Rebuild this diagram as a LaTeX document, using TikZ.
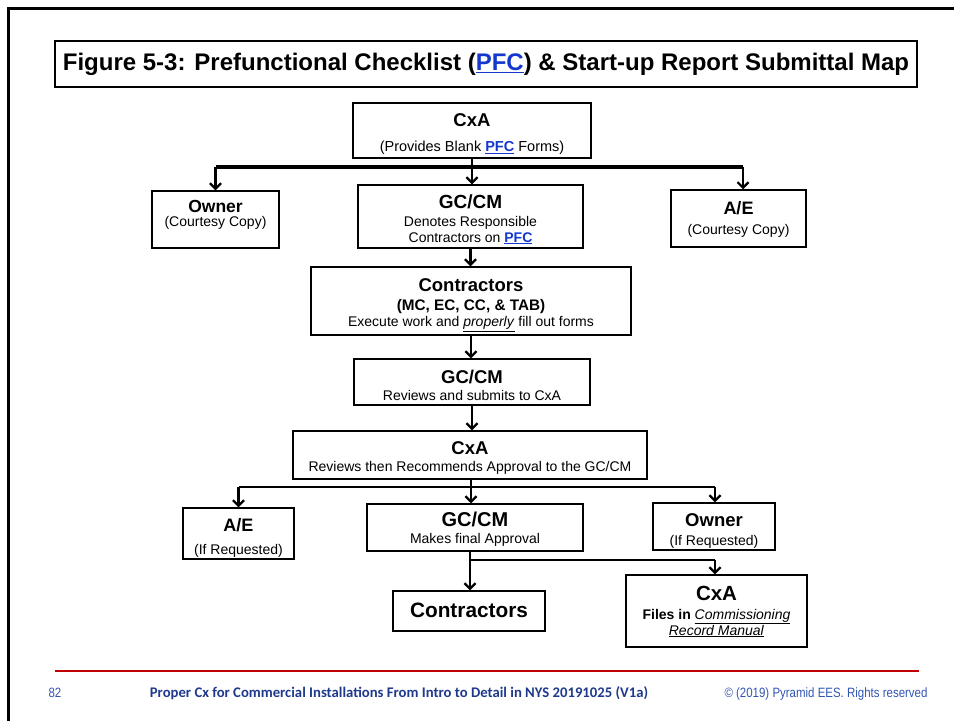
\documentclass[tikz,border=0pt]{standalone}
\usepackage{fontspec}
\setmainfont{Liberation Sans}
\newfontfamily\footfont{Carlito}
\newfontfamily\narrowfont[FakeStretch=0.85]{Liberation Sans}
\usetikzlibrary{arrows.meta}
\definecolor{linkblue}{RGB}{20,55,205}
\definecolor{footred}{RGB}{192,0,0}
\definecolor{footnavy}{RGB}{31,58,140}
\definecolor{footblue}{RGB}{50,85,180}
\newcommand{\fsz}[1]{\fontsize{#1}{#1}\selectfont}
\newcommand{\pfc}{\textcolor{linkblue}{\underline{\textbf{PFC}}}}
\newcommand{\ul}[1]{\underline{\textit{#1}}}
\begin{document}
\begin{tikzpicture}[x=1pt,y=-1pt,
  box/.style={draw, line width=1.5pt, inner sep=0pt},
  txt/.style={anchor=base, inner sep=0pt},
  arr/.style={line width=2.2pt, -{Straight Barb[length=5.5pt,width=11pt]}},
  vline/.style={line width=2.2pt},
  bigbar/.style={line width=3.5pt},
  midbar/.style={line width=2.8pt}]
\useasboundingbox (0,0) rectangle (954,721);
% page frame
\draw[line width=3pt] (8.5,721) -- (8.5,8) -- (954,8);
% title
\node[box, line width=2pt, minimum width=862pt, minimum height=46pt, font=\bfseries\fsz{24}] (title) at (486,64)
  {Figure 5-3: Prefunctional Checklist (\textcolor{linkblue}{\underline{PFC}}) \& Start-up Report Submittal Map};
% level 1
\node[box, minimum width=238pt, minimum height=55pt] (cxa1) at (472,130.5) {};
\node[txt, font=\bfseries\fsz{18.5}] (cxa1a) at (472,126.5) {CxA};
\node[txt, font=\fsz{14.5}] (cxa1b) at (472,151.7) {(Provides Blank \pfc{} Forms)};
% level 2
\node[box, minimum width=127pt, minimum height=57pt] (owner1) at (215.5,219.5) {};
\node[txt, font=\bfseries\fsz{17.5}] (owner1a) at (215.5,212) {Owner};
\node[txt, font=\fsz{14}] (owner1b) at (215.5,226.7) {(Courtesy Copy)};
\node[box, minimum width=225pt, minimum height=63pt] (gccm1) at (470.5,216.5) {};
\node[txt, font=\bfseries\fsz{19}] (gccm1a) at (470.5,208) {GC/CM};
\node[txt, font=\fsz{14}] (gccm1b) at (470.5,226) {Denotes Responsible};
\node[txt, font=\fsz{14}] (gccm1c) at (470.5,242) {Contractors on \pfc};
\node[box, minimum width=135pt, minimum height=57pt] (ae1) at (738.5,218.5) {};
\node[txt, font=\bfseries\fsz{18}] (ae1a) at (738.5,214) {A/E};
\node[txt, font=\fsz{14}] (ae1b) at (738.5,234) {(Courtesy Copy)};
% level 3
\node[box, minimum width=320pt, minimum height=68pt] (contr1) at (471,301) {};
\node[txt, font=\bfseries\fsz{18.5}] (contr1a) at (471,291) {Contractors};
\node[txt, font=\bfseries\fsz{15.3}] (contr1b) at (471,310.7) {(MC, EC, CC, \& TAB)};
\node[txt, font=\fsz{14}] (contr1c) at (471,326.7) {Execute work and \ul{properly} fill out forms};
% level 4
\node[box, minimum width=236pt, minimum height=46pt] (gccm2) at (472,382) {};
\node[txt, font=\bfseries\fsz{18.5}] (gccm2a) at (472,383.3) {GC/CM};
\node[txt, font=\fsz{14}] (gccm2b) at (472,400) {Reviews and submits to CxA};
% level 5
\node[box, minimum width=354pt, minimum height=48pt] (cxa2) at (470,455) {};
\node[txt, font=\bfseries\fsz{18.5}] (cxa2a) at (470,454.3) {CxA};
\node[txt, font=\fsz{14}] (cxa2b) at (470,471.7) {Reviews then Recommends Approval to the GC/CM};
% level 6
\node[box, minimum width=111pt, minimum height=51pt] (ae2) at (238.5,533.5) {};
\node[txt, font=\bfseries\fsz{18}] (ae2a) at (238.5,531.7) {A/E};
\node[txt, font=\fsz{14}] (ae2b) at (238.5,554) {(If Requested)};
\node[box, minimum width=216pt, minimum height=47pt] (gccm3) at (475,527.5) {};
\node[txt, font=\bfseries\fsz{20}] (gccm3a) at (475,526) {GC/CM};
\node[txt, font=\fsz{14}] (gccm3b) at (475,543.3) {Makes final Approval};
\node[box, minimum width=122pt, minimum height=47pt] (owner2) at (714,526.5) {};
\node[txt, font=\bfseries\fsz{18.5}] (owner2a) at (714,526) {Owner};
\node[txt, font=\fsz{14}] (owner2b) at (714,545) {(If Requested)};
% level 7
\node[box, minimum width=152pt, minimum height=40pt] (contr2) at (469,611) {};
\node[txt, font=\bfseries\fsz{20.8}] (contr2a) at (469,617.3) {Contractors};
\node[box, minimum width=181pt, minimum height=72pt] (cxa3) at (716.5,611) {};
\node[txt, font=\bfseries\fsz{20.5}] (cxa3a) at (716.5,600.7) {CxA};
\node[txt, font=\fsz{14}] (cxa3b) at (716.5,619.3) {\textbf{Files in} \ul{Commissioning}};
\node[txt, font=\fsz{14}] (cxa3c) at (716.5,635) {\ul{Record Manual}};
% connectors, top
\coordinate (j1) at (472,167);
\coordinate (b1L) at (215.5,167);
\coordinate (b1R) at (743,167);
\draw[vline] (cxa1.south) -- (j1);
\draw[bigbar] (b1L) -- (b1R);
\draw[arr] (b1L) -- (b1L |- owner1.north);
\draw[arr] (j1) -- (j1 |- gccm1.north);
\draw[arr] (b1R) -- (b1R |- ae1.north);
% chain
\draw[arr] (gccm1.south) -- (gccm1.south |- contr1.north);
\draw[arr] (contr1.south) -- (contr1.south |- gccm2.north);
\draw[arr] (gccm2.south) -- (gccm2.south |- cxa2.north);
% connectors, lower
\coordinate (j2) at (471,487);
\coordinate (b2L) at (238.5,487);
\coordinate (b2R) at (715,487);
\draw[vline] (cxa2.south -| j2) -- (j2);
\draw[midbar] (b2L) -- (b2R);
\draw[arr] (b2L) -- (b2L |- ae2.north);
\draw[arr] (j2) -- (j2 |- gccm3.north);
\draw[arr] (b2R) -- (b2R |- owner2.north);
\coordinate (j3) at (470,560);
\coordinate (b3R) at (715,560);
\draw[arr] (gccm3.south -| j3) -- (j3 |- contr2.north);
\draw[midbar] (j3) -- (b3R);
\draw[arr] (b3R) -- (b3R |- cxa3.north);
% footer
\draw[footred, line width=2pt] (55,671) -- (919,671);
\node[txt, font=\narrowfont\fsz{13.5}, text=footblue] (pgnum) at (55,697) {82};
\node[txt, font=\footfont\bfseries\fsz{14.7}, text=footnavy] (foottitle) at (399,697) {Proper Cx for Commercial Installations From Intro to Detail in NYS 20191025 (V1a)};
\node[txt, font=\narrowfont\fsz{13.5}, text=footblue] (copyr) at (826,697) {\textcopyright{} (2019) Pyramid EES. Rights reserved};
\end{tikzpicture}
\end{document}
